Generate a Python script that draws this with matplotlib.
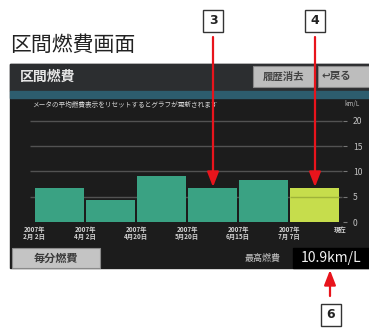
import matplotlib
matplotlib.use("Agg")
import matplotlib.pyplot as plt
from matplotlib.patches import Rectangle

plt.rcParams['font.family'] = ['Noto Sans CJK JP', 'DejaVu Sans']

# ---- data ----
fuel_values = [6.7, 4.35, 9.0, 6.7, 8.3, 6.75]
date_labels = ["2007年\n2月 2日", "2007年\n4月 2日", "2007年\n4月20日",
               "2007年\n5月20日", "2007年\n6月15日", "2007年\n7月 7日", "現在"]
y_ticks = [0, 5, 10, 15, 20]
best_value = "10.9km/L"
page_title = "区間燃費画面"
screen_title = "区間燃費"
message = "メータの平均燃費表示をリセットするとグラフが更新されます"
callouts = ["3", "4", "6"]

W, H = 369, 328
fig = plt.figure(figsize=(W / 100, H / 100), dpi=100)
fig.patch.set_facecolor("white")

# background / chrome axes in pixel coords
bg = fig.add_axes([0, 0, 1, 1])
bg.set_xlim(0, W)
bg.set_ylim(H, 0)
bg.axis("off")

bg.text(10, 45, page_title, fontsize=15, color="#222222", va="center", ha="left")

# screen
bg.add_patch(Rectangle((10, 64), W - 10, 204, color="#1c1c1c", zorder=1))
bg.add_patch(Rectangle((10, 64), W - 10, 27, color="#2c2e30", zorder=2))
bg.add_patch(Rectangle((10, 91), W - 10, 7, color="#2d5d6e", zorder=2))
bg.text(20, 77, screen_title, fontsize=10, fontweight="bold", color="#e6e6e6",
        va="center", ha="left", zorder=3)
bg.add_patch(Rectangle((253, 66), 62, 21, facecolor="#bdbdbd", edgecolor="#888888",
                       lw=0.8, zorder=3))
bg.text(284, 76.5, "履歴消去", fontsize=7.5, fontweight="bold", color="#444444",
        va="center", ha="center", zorder=4)
bg.add_patch(Rectangle((318, 66), 52, 21, facecolor="#bdbdbd", edgecolor="#888888",
                       lw=0.8, zorder=3))
bg.text(322, 76.5, "↩戻る", fontsize=7.5, fontweight="bold", color="#444444",
        va="center", ha="left", zorder=4)
bg.text(32, 105, message, fontsize=4.8, color="#d8d8d8", va="center", ha="left", zorder=3)
bg.text(352, 104, "km/L", fontsize=4.5, color="#bbbbbb", va="center", ha="center", zorder=3)

# bottom row
bg.add_patch(Rectangle((12, 248), 88, 20, facecolor="#c4c4c4", edgecolor="#8a8a8a",
                       lw=0.8, zorder=3))
bg.text(56, 258, "毎分燃費", fontsize=8, fontweight="bold", color="#3a3a3a",
        va="center", ha="center", zorder=4)
bg.text(263, 258, "最高燃費", fontsize=6.5, color="#c8c8c8", va="center", ha="center", zorder=3)
bg.add_patch(Rectangle((293, 248), 76, 20, color="#000000", zorder=3))
bg.text(331, 258, best_value, fontsize=10, color="#f2f2f2", va="center", ha="center", zorder=4)

# ---- chart axes ----
px_per_x = 51.0
x0_px = 34.0
y0_px = 222.0
px_per_y = 5.06
xlim = (-0.12, 6.06)
ylim = (0, 20.6)
left_px = x0_px + xlim[0] * px_per_x
right_px = x0_px + xlim[1] * px_per_x
top_px = y0_px - ylim[1] * px_per_y
ax = fig.add_axes([left_px / W, (H - y0_px) / H, (right_px - left_px) / W,
                   (y0_px - top_px) / H])
ax.set_facecolor("none")
ax.set_xlim(*xlim)
ax.set_ylim(*ylim)
for s in ax.spines.values():
    s.set_visible(False)

for yv in y_ticks[1:]:
    ax.hlines(yv, -0.08, 6.04, color="#525252", lw=1.0, zorder=1)

colors = ["#3aa283"] * (len(fuel_values) - 1) + ["#c6dd4c"]
xs = list(range(len(fuel_values)))
ax.bar([x + 0.5 for x in xs], fuel_values, width=0.96, color=colors,
       edgecolor="none", zorder=2)
ax.hlines(5, 5.02, 5.98, color="#9fb33a", lw=1.0, zorder=3)

ax.yaxis.tick_right()
ax.set_yticks(y_ticks)
ax.set_yticklabels([str(v) for v in y_ticks], fontsize=6.2, color="#c0c0c0")
ax.tick_params(axis="y", length=3, width=0.8, color="#777777", pad=4)
ax.set_xticks(range(len(date_labels)))
ax.set_xticklabels(date_labels, fontsize=4.6, color="#d2d2d2", linespacing=0.95,
                   fontweight="bold")
ax.tick_params(axis="x", length=0, pad=3)

# ---- callouts on top ----
top = fig.add_axes([0, 0, 1, 1])
top.set_xlim(0, W)
top.set_ylim(H, 0)
top.axis("off")
top.patch.set_alpha(0)

red = "#e8141c"
for label, (bx, by) in zip(callouts, [(213, 21), (315, 21), (331, 315)]):
    top.add_patch(Rectangle((bx - 10, by - 11), 20, 22, facecolor="white",
                            edgecolor="#333333", lw=1.0))
    top.text(bx, by, label, fontsize=9, fontweight="bold", color="#222222",
             ha="center", va="center", family="DejaVu Sans")

arrow_kw = dict(arrowstyle="-|>,head_length=0.9,head_width=0.35", color=red, lw=1.6,
                shrinkA=0, shrinkB=0)
top.annotate("", xy=(213, 187), xytext=(213, 37), arrowprops=arrow_kw)
top.annotate("", xy=(315, 187), xytext=(315, 37), arrowprops=arrow_kw)
top.annotate("", xy=(330, 270), xytext=(330, 296), arrowprops=arrow_kw)

fig.savefig("out.png", dpi=100, facecolor="white")
